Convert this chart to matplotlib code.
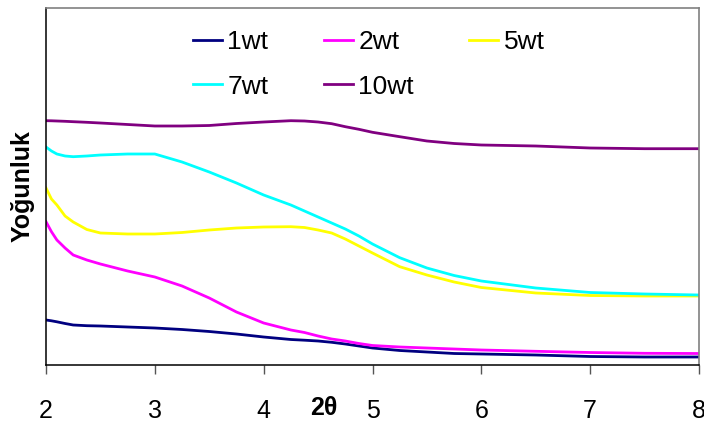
import matplotlib
matplotlib.use("Agg")
import matplotlib.pyplot as plt
from matplotlib.transforms import blended_transform_factory

# 2theta positions (deg) and intensities
two_theta = [2.0, 2.05, 2.1, 2.175, 2.25, 2.375, 2.5, 2.75, 3.0, 3.25, 3.5,
             3.75, 4.0, 4.25, 4.375, 4.5, 4.625, 4.75, 4.875, 5.0, 5.25,
             5.5, 5.75, 6.0, 6.5, 7.0, 7.5, 8.0]

wt1 = [450, 442, 432, 415, 400, 393, 390, 380, 370, 355, 335,
       310, 280, 255, 248, 240, 227, 210, 190, 170, 145,
       130, 115, 110, 100, 85, 80, 80]
wt2 = [1433, 1333, 1250, 1170, 1100, 1050, 1010, 940, 880, 790, 670,
       530, 420, 350, 325, 290, 260, 240, 215, 195, 180,
       170, 160, 150, 137, 125, 117, 115]
wt5 = [1770, 1660, 1600, 1490, 1430, 1355, 1320, 1310, 1310, 1325, 1350,
       1370, 1380, 1383, 1375, 1350, 1320, 1260, 1190, 1120, 983,
       900, 830, 775, 720, 695, 690, 690]
wt7 = [2180, 2140, 2110, 2090, 2083, 2090, 2100, 2110, 2110, 2030, 1930,
       1820, 1700, 1600, 1540, 1480, 1420, 1360, 1290, 1210, 1073,
       970, 895, 840, 770, 725, 710, 700]
wt10 = [2443, 2442, 2440, 2437, 2433, 2427, 2420, 2405, 2390, 2390, 2395,
        2415, 2430, 2443, 2440, 2430, 2413, 2383, 2357, 2327, 2283,
        2240, 2215, 2200, 2190, 2170, 2163, 2163]

labels = ["1wt", "2wt", "5wt", "7wt", "10wt"]
colors = ["#000080", "#FF00FF", "#FFFF00", "#00FFFF", "#800080"]
xticks = [2, 3, 4, 5, 6, 7, 8]

plt.rcParams["font.family"] = ["Liberation Sans", "DejaVu Sans"]

fig = plt.figure(figsize=(7.04, 4.25), dpi=100)
ax = fig.add_axes([46 / 704, 60 / 425, 653 / 704, 357 / 425])

series = [wt1, wt2, wt5, wt7, wt10]
lines = []
for ys, lab, c in zip(series, labels, colors):
    ln, = ax.plot(two_theta, ys, color=c, lw=2.0, label=lab)
    lines.append(ln)

ax.set_xlim(2, 8)
ax.set_ylim(0, 3570)
ax.set_xticks(xticks)
ax.set_xticklabels([str(t) for t in xticks])
ax.set_yticks([])
ax.tick_params(axis="x", direction="out", length=6.5, width=1, color="#555555",
               pad=18, labelsize=18)

for s in ["left", "bottom"]:
    ax.spines[s].set_color("black")
    ax.spines[s].set_linewidth(1.1)
for s in ["top", "right"]:
    ax.spines[s].set_color("#808080")
    ax.spines[s].set_linewidth(1.2)

ax.set_ylabel("Yoğunluk", fontsize=18, fontweight="bold", labelpad=8)

# x label sits on the tick label row, between 4 and 5
trans = blended_transform_factory(ax.transData, fig.transFigure)
ax.text(4.55, (425 - 408) / 425, "2θ", transform=trans, ha="center", va="center",
        fontsize=18, fontweight="bold")

# legend is filled row by row in the reference: reorder for column-major fill
order = [0, 3, 1, 4, 2]
ax.legend([lines[i] for i in order], [labels[i] for i in order],
          ncol=3, frameon=False, fontsize=19, loc="upper left",
          bbox_to_anchor=((193 - 46) / 653, (365 - 30) / 357),
          borderpad=0, borderaxespad=0, handlelength=1.1,
          handletextpad=0.2, columnspacing=2.1, labelspacing=0.78)

fig.savefig("out.png", dpi=100)
